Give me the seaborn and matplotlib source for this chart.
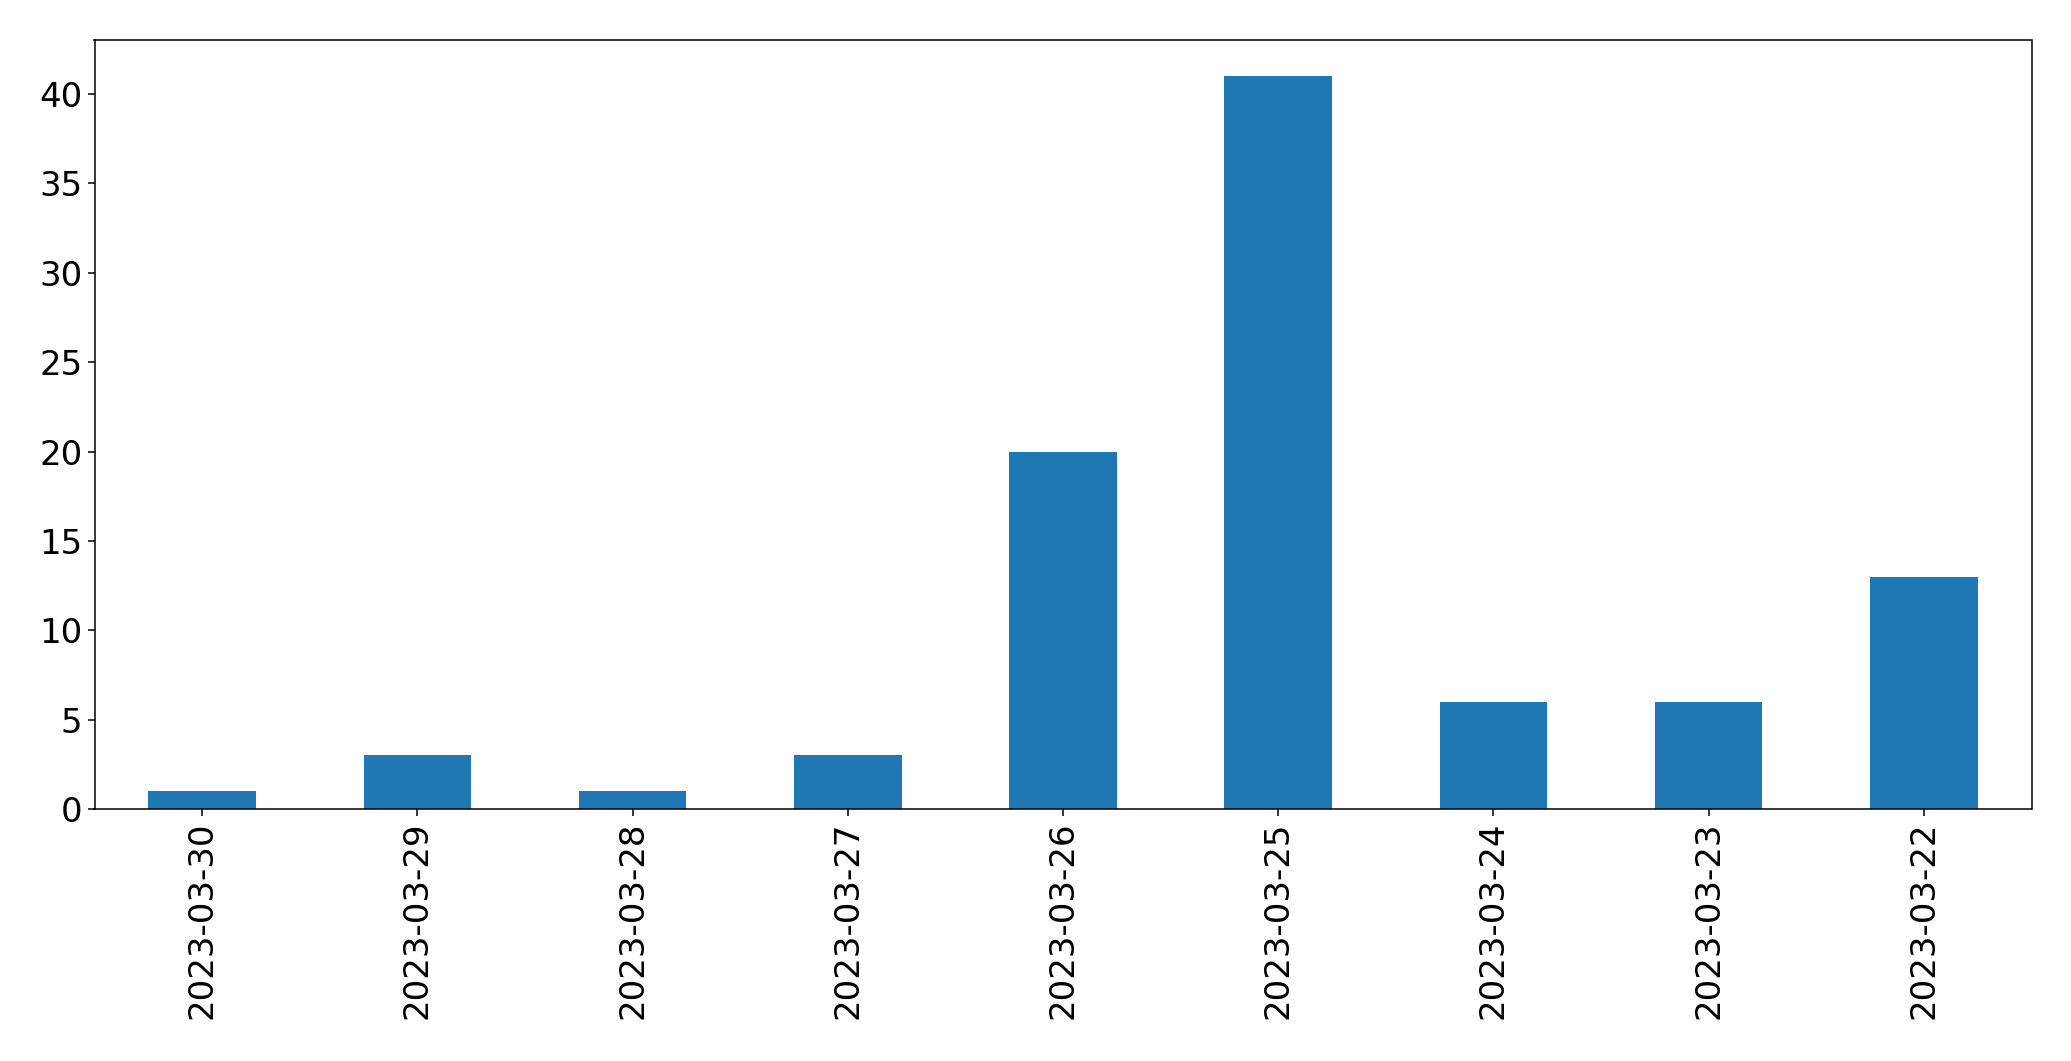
import matplotlib
matplotlib.use("Agg")
import matplotlib.pyplot as plt
import seaborn as sns
import pandas as pd

# Daily counts, in the order shown (newest first)
dates = ["2023-03-30", "2023-03-29", "2023-03-28", "2023-03-27", "2023-03-26",
         "2023-03-25", "2023-03-24", "2023-03-23", "2023-03-22"]
counts = [1, 3, 1, 3, 20, 41, 6, 6, 13]

df = pd.DataFrame({"date": dates, "count": counts})

fig = plt.figure(figsize=(20.71, 10.61), dpi=100)
ax = fig.add_axes([94.5 / 2071, 1 - 809 / 1061, (2031.5 - 94.5) / 2071, (809 - 39.5) / 1061])

sns.barplot(data=df, x="date", y="count", order=dates, color="#1f77b4",
            saturation=1, width=0.5, ax=ax)

ax.set_xlim(-0.5, len(dates) - 0.5)
ax.set_ylim(0, max(counts) * 1.05)
ax.set_xlabel("")
ax.set_ylabel("")
ax.tick_params(axis="both", labelsize=24.5, length=5.2, width=1.1)
ax.tick_params(axis="x", labelrotation=90)
for sp in ax.spines.values():
    sp.set_linewidth(1.1)

fig.savefig("out.png", dpi=100)
